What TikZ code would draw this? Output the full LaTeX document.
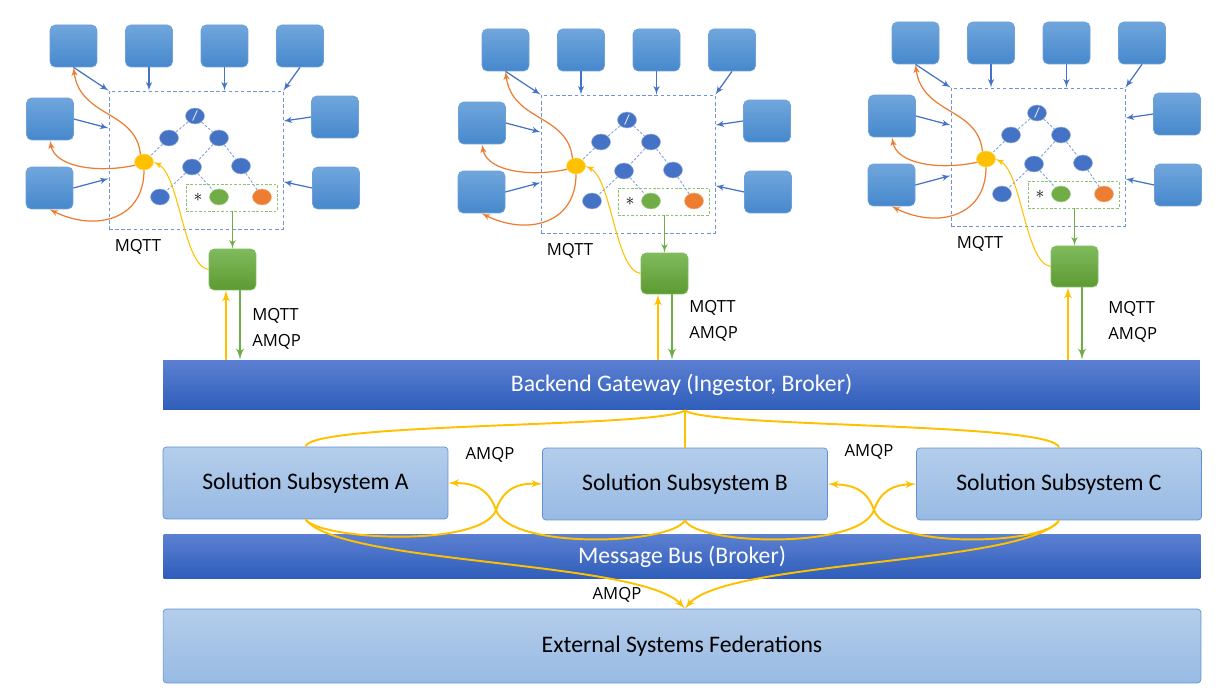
\documentclass[tikz,border=0pt]{standalone}
\usepackage{fontspec}
\setmainfont{Carlito}
\newfontfamily\labelfont{Open Sans}
\usetikzlibrary{arrows,shapes}

\definecolor{sensortop}{RGB}{112,166,220}
\definecolor{sensorbot}{RGB}{70,136,205}
\definecolor{sensorline}{RGB}{110,160,215}
\definecolor{gwtop}{RGB}{128,187,92}
\definecolor{gwbot}{RGB}{92,154,50}
\definecolor{bartop}{RGB}{92,128,210}
\definecolor{barbot}{RGB}{46,93,186}
\definecolor{subtop}{RGB}{180,205,235}
\definecolor{subbot}{RGB}{152,186,227}
\definecolor{subline}{RGB}{95,145,210}
\definecolor{treeblue}{RGB}{68,114,196}
\definecolor{treeyellow}{RGB}{255,192,0}
\definecolor{treegreen}{RGB}{112,173,71}
\definecolor{treeorange}{RGB}{237,125,49}
\definecolor{edgeblue}{RGB}{130,160,215}
\definecolor{framecol}{RGB}{110,148,218}
\definecolor{boxgreen}{RGB}{140,196,110}

\tikzset{
  sensor/.style={rounded corners=3pt,draw=sensorline,top color=sensortop,bottom color=sensorbot,
    minimum width=0.94cm,minimum height=0.84cm,inner sep=0pt},
  gwbox/.style={rounded corners=3pt,draw=gwtop,top color=gwtop,bottom color=gwbot,
    minimum width=0.94cm,minimum height=0.82cm,inner sep=0pt},
  tnode/.style={ellipse,fill=treeblue,draw=treeblue!55!white,line width=0.3pt,
    minimum width=0.38cm,minimum height=0.32cm,inner sep=0pt},
  ynode/.style={tnode,fill=treeyellow,draw=treeyellow!60!white},
  gnode/.style={tnode,fill=treegreen,draw=treegreen!60!white},
  onode/.style={tnode,fill=treeorange,draw=treeorange!60!white},
  frame/.style={draw=framecol,dash pattern=on 2pt off 1.5pt,line width=0.45pt,
    minimum width=3.48cm,minimum height=2.76cm,inner sep=0pt},
  selbox/.style={draw=boxgreen,dash pattern=on 1.5pt off 1pt,line width=0.45pt,
    minimum width=1.82cm,minimum height=0.54cm,inner sep=0pt},
  tedge/.style={color=edgeblue,dash pattern=on 1.5pt off 1pt,line width=0.5pt},
  barr/.style={->,color=treeblue,line width=0.7pt},
  oarr/.style={->,color=treeorange,line width=0.7pt},
  yarr/.style={->,color=treeyellow,line width=0.6pt},
  garr/.style={->,color=treegreen,line width=0.7pt},
  upline/.style={->,color=treeyellow,line width=1.2pt},
  downline/.style={->,color=treegreen,line width=1.2pt},
  bus/.style={color=treeyellow,line width=1.1pt},
  busarr/.style={bus,->},
  bar/.style={top color=bartop,bottom color=barbot,text=white,minimum width=20.74cm,
    minimum height=1cm,inner sep=0pt,font=\fontsize{13.5}{16}\selectfont},
  subsys/.style={rounded corners=2pt,draw=subline,top color=subtop,bottom color=subbot,
    minimum width=5.7cm,minimum height=1.44cm,inner sep=0pt,font=\fontsize{13.5}{16}\selectfont},
  lbl/.style={inner sep=0pt,font=\labelfont\fontsize{9.5}{11}\selectfont}
}

\begin{document}
\begin{tikzpicture}[>=latex',x=0.02cm,y=-0.02cm]
  \useasboundingbox (0,0) rectangle (1224,692);

  % backbone
  \node[bar] (gateway) at (681.5,385) {Backend Gateway (Ingestor, Broker)};
  \node[subsys] (subA) at (305.5,483) {Solution Subsystem A};
  \node[subsys] (subB) at (685,484) {Solution Subsystem B};
  \node[subsys] (subC) at (1059,484) {Solution Subsystem C};
  \node[bar,minimum height=0.9cm] (msgbus) at (682,556.5) {Message Bus (Broker)};
  \node[subsys,minimum width=20.76cm,minimum height=1.48cm] (extfed) at (682,646) {External Systems Federations};

  % edge clusters
  \foreach \c/\dx/\dy/\lx/\ly in {1/0/0/252/316, 2/432/4/689/308, 3/842/-3/1108/309}{
    \begin{scope}[shift={(\dx,\dy)}]
      \node[sensor] (t1-\c) at (73.5,46) {};
      \node[sensor] (t2-\c) at (149,46) {};
      \node[sensor] (t3-\c) at (224.5,46) {};
      \node[sensor] (t4-\c) at (300,46) {};
      \node[sensor] (l1-\c) at (50,119) {};
      \node[sensor] (l2-\c) at (49.5,188) {};
      \node[sensor] (r1-\c) at (335,117) {};
      \node[sensor] (r2-\c) at (336,188) {};
      \node[frame] (fr-\c) at (196,160) {};
      \node[selbox] (gb-\c) at (231.5,197.5) {};
      \node[tnode,text=white,font=\footnotesize] (n0-\c) at (195,116) {/};
      \node[tnode] (n1-\c) at (169,138) {};
      \node[tnode] (n2-\c) at (219,138) {};
      \node[ynode] (y-\c) at (144,162) {};
      \node[tnode] (n3-\c) at (192,167) {};
      \node[tnode] (n4-\c) at (241,166) {};
      \node[tnode] (n5-\c) at (160,197) {};
      \node[gnode] (g-\c) at (219,197) {};
      \node[onode] (o-\c) at (262,197) {};
      \node[inner sep=0pt] (st-\c) at (198,197) {$\ast$};
      \node[gwbox] (gw-\c) at (232.5,269.5) {};
      \node[lbl] (mq-\c) at (138,247) {MQTT};
      \coordinate (ya-\c) at (226,0);
      \coordinate (ga-\c) at (240,0);

      \path[tedge] (n0-\c) edge (n1-\c)
        (n0-\c) edge (n2-\c)
        (n1-\c) edge (y-\c)
        (n2-\c) edge (n3-\c)
        (n2-\c) edge (n4-\c)
        (n3-\c) edge (n5-\c)
        (n3-\c) edge (g-\c)
        (n4-\c) edge (o-\c);
      \path[barr] (t1-\c.south) edge (fr-\c.north west)
        (t2-\c) edge (t2-\c |- fr-\c.north)
        (t3-\c) edge (t3-\c |- fr-\c.north)
        (t4-\c.south) edge (fr-\c.north east)
        (l1-\c.east) edge (fr-\c.160)
        (l2-\c.east) edge (fr-\c.192)
        (r1-\c.west) edge (fr-\c.24)
        (r2-\c.west) edge (fr-\c.-14);
      \draw[oarr] (y-\c.115) .. controls (136,110) and (80,118) .. (t1-\c.south);
      \draw[oarr] (y-\c.200) .. controls (100,173) and (55,168) .. (l1-\c.south);
      \draw[oarr] (y-\c.south) .. controls (144,220) and (95,232) .. (l2-\c.south);
      \draw[yarr] (gw-\c.west) .. controls (183,266) and (180,175) .. (y-\c.east);
      \draw[garr] (gw-\c.north |- gb-\c.south) -- (gw-\c.north);
    \end{scope}
    \draw[upline] (ya-\c |- gateway.north) -- (ya-\c |- gw-\c.south);
    \draw[downline] (ga-\c |- gw-\c.south) -- (ga-\c |- gateway.north);
    \node[lbl,anchor=west] (mq2-\c) at (\lx,\ly) {MQTT};
    \node[lbl,anchor=west] (am-\c) at (\lx,\ly+26) {AMQP};
  }

  % AMQP links
  \coordinate (gwout) at (subB.north |- gateway.south);
  \coordinate (extin) at (gwout |- extfed.north);
  \draw[bus] (gwout) -- (subB.north);
  \draw[bus] (gwout) .. controls (660,428) and (310,422) .. (subA.north);
  \draw[bus] (gwout) .. controls (706,428) and (1056,422) .. (subC.north);
  \draw[busarr] (subA.south) .. controls (320,540) and (482,548) .. (496,510) .. controls (503,490) and (516,483) .. (subB.west);
  \draw[busarr] (subB.south) .. controls (671,545) and (510,550) .. (496,510) .. controls (489,490) and (476,483) .. (subA.east);
  \draw[busarr] (subB.south) .. controls (697,545) and (860,550) .. (874,510) .. controls (881,490) and (894,485) .. (subC.west);
  \draw[busarr] (subC.south) .. controls (1047,545) and (888,550) .. (874,510) .. controls (867,490) and (854,485) .. (subB.east);
  \draw[busarr] (subA.south) .. controls (340,565) and (640,560) .. (extin);
  \draw[busarr] (subC.south) .. controls (1026,565) and (726,560) .. (extin);
  \node[lbl] (amqp-ab) at (490,455) {AMQP};
  \node[lbl] (amqp-bc) at (869,452) {AMQP};
  \node[lbl] (amqp-ext) at (617,595) {AMQP};
\end{tikzpicture}
\end{document}
